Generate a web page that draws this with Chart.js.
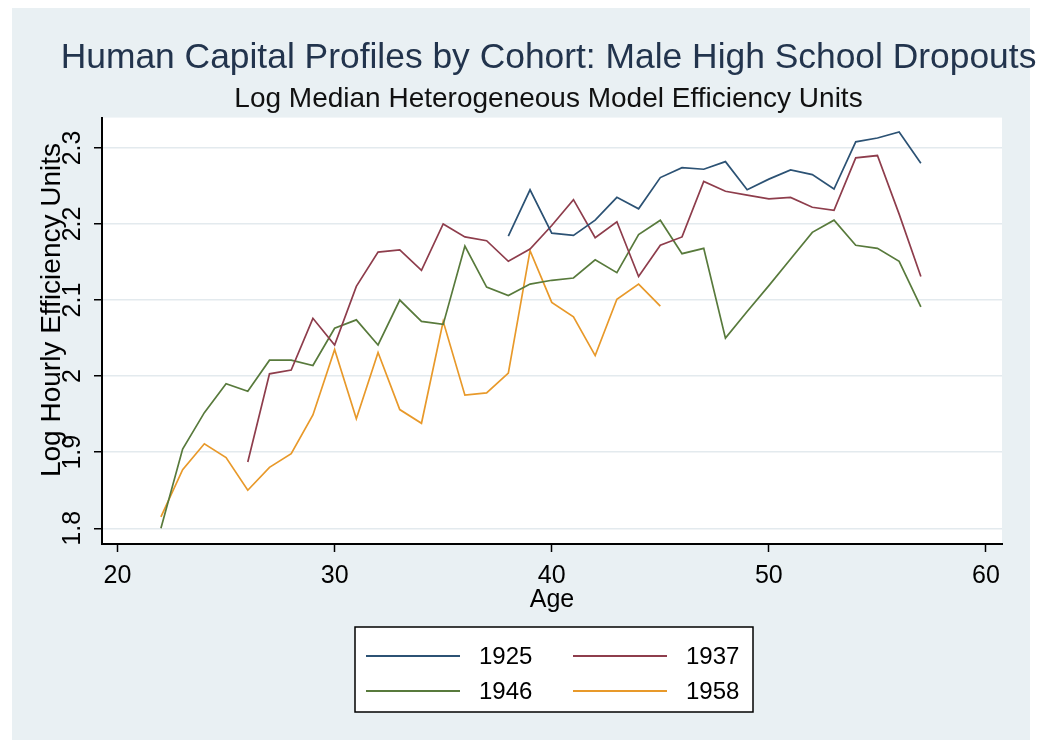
<!DOCTYPE html>
<html>
<head>
<meta charset="utf-8">
<script src="https://cdn.jsdelivr.net/npm/chart.js@4.4.1/dist/chart.umd.min.js"></script>
<style>
html,body{margin:0;padding:0;background:#ffffff;}
#wrap{width:1052px;height:740px;position:relative;}
canvas{display:block;}
</style>
</head>
<body>
<div id="wrap"><canvas id="c" width="1052" height="740"></canvas></div>
<script>
// ---- text ----
const titleText = "Human Capital Profiles by Cohort: Male High School Dropouts";
const subtitleText = "Log Median Heterogeneous Model Efficiency Units";
const xTitle = "Age";
const yTitle = "Log Hourly Efficiency Units";

// ---- ticks ----
const xTicks = [20, 30, 40, 50, 60];
const yTicks = [1.8, 1.9, 2.0, 2.1, 2.2, 2.3];
const yTickLabels = ["1.8", "1.9", "2", "2.1", "2.2", "2.3"];

// ---- series ----
const cohorts = ["1925", "1937", "1946", "1958"];

const ages1925 = [38, 39, 40, 41, 42, 43, 44, 45, 46, 47, 48, 49, 50, 51, 52, 53, 54, 55, 56, 57];
const vals1925 = [2.184, 2.245, 2.188, 2.185, 2.205, 2.235, 2.220, 2.261, 2.274, 2.272, 2.282, 2.245, 2.259, 2.271, 2.265, 2.246, 2.308, 2.313, 2.321, 2.280];

const ages1937 = [26, 27, 28, 29, 30, 31, 32, 33, 34, 35, 36, 37, 38, 39, 40, 41, 42, 43, 44, 45, 46, 47, 48, 49, 50, 51, 52, 53, 54, 55, 56, 57];
const vals1937 = [1.887, 2.003, 2.008, 2.076, 2.041, 2.118, 2.163, 2.166, 2.139, 2.200, 2.183, 2.178, 2.151, 2.167, 2.198, 2.232, 2.182, 2.203, 2.131, 2.172, 2.183, 2.256, 2.243, 2.238, 2.233, 2.235, 2.222, 2.218, 2.287, 2.290, 2.213, 2.131];

const ages1946 = [22, 23, 24, 25, 26, 27, 28, 29, 30, 31, 32, 33, 34, 35, 36, 37, 38, 39, 40, 41, 42, 43, 44, 45, 46, 47, 48, 49, 50, 51, 52, 53, 54, 55, 56, 57];
const vals1946 = [1.800, 1.904, 1.952, 1.990, 1.980, 2.021, 2.021, 2.014, 2.063, 2.074, 2.041, 2.100, 2.072, 2.068, 2.171, 2.117, 2.106, 2.121, 2.126, 2.129, 2.153, 2.136, 2.186, 2.205, 2.161, 2.168, 2.050, 2.085, 2.119, 2.154, 2.189, 2.205, 2.172, 2.168, 2.151, 2.091];

const ages1958 = [22, 23, 24, 25, 26, 27, 28, 29, 30, 31, 32, 33, 34, 35, 36, 37, 38, 39, 40, 41, 42, 43, 44, 45];
const vals1958 = [1.815, 1.877, 1.911, 1.893, 1.850, 1.880, 1.898, 1.949, 2.035, 1.944, 2.031, 1.956, 1.938, 2.072, 1.975, 1.978, 2.004, 2.165, 2.097, 2.078, 2.027, 2.101, 2.121, 2.092];

const seriesColors = ["#2c5274", "#8e3d4c", "#587a3c", "#e8992a"];

function pts(ages, vals) { return ages.map((a, i) => ({ x: a, y: vals[i] })); }

const FONT = '"Liberation Sans", Arial, Helvetica, sans-serif';
Chart.defaults.font.family = FONT;
Chart.defaults.color = '#000000';

const bgPlugin = {
  id: 'stataBg',
  beforeDraw(chart) {
    const { ctx, chartArea: a } = chart;
    ctx.save();
    ctx.fillStyle = '#ffffff';
    ctx.fillRect(0, 0, chart.width, chart.height);
    ctx.fillStyle = '#e9f0f3';
    ctx.fillRect(12, 8, 1018, 732);
    ctx.fillStyle = '#ffffff';
    ctx.fillRect(a.left, a.top, a.right - a.left, a.bottom - a.top);
    ctx.restore();
  }
};

// y-axis title, placed as Stata places it (beside the label column, slightly above plot centre)
const yTitlePlugin = {
  id: 'stataYTitle',
  afterDraw(chart, args, o) {
    const ctx = chart.ctx;
    ctx.save();
    ctx.translate(o.x, o.y);
    ctx.rotate(-Math.PI / 2);
    ctx.font = o.font;
    ctx.fillStyle = '#000000';
    ctx.textAlign = 'center';
    ctx.textBaseline = 'middle';
    ctx.fillText(o.text, 0, 0);
    ctx.restore();
  }
};

const legendPlugin = {
  id: 'stataLegend',
  afterDraw(chart, args, o) {
    const ctx = chart.ctx;
    ctx.save();
    ctx.fillStyle = '#ffffff';
    ctx.fillRect(o.x, o.y, o.w, o.h);
    ctx.strokeStyle = '#000000';
    ctx.lineWidth = 1.5;
    ctx.strokeRect(o.x, o.y, o.w, o.h);
    chart.data.datasets.forEach((ds, i) => {
      const col = i % 2, row = Math.floor(i / 2);
      const cx = o.x + o.colX[col];
      const cy = o.y + o.rowY[row];
      ctx.strokeStyle = ds.borderColor;
      ctx.lineWidth = 2;
      ctx.beginPath();
      ctx.moveTo(cx, cy);
      ctx.lineTo(cx + o.lineLen, cy);
      ctx.stroke();
      ctx.fillStyle = '#000000';
      ctx.font = o.font;
      ctx.textBaseline = 'middle';
      ctx.textAlign = 'left';
      ctx.fillText(ds.label, cx + o.lineLen + o.gap, cy + 1);
    });
    ctx.restore();
  }
};

const allAges = [ages1925, ages1937, ages1946, ages1958];
const allVals = [vals1925, vals1937, vals1946, vals1958];

new Chart(document.getElementById('c'), {
  type: 'line',
  data: {
    datasets: cohorts.map((c, i) => ({
      label: c,
      data: pts(allAges[i], allVals[i]),
      borderColor: seriesColors[i],
      backgroundColor: seriesColors[i],
      borderWidth: 1.7,
      pointRadius: 0,
      pointHoverRadius: 0,
      tension: 0,
      fill: false,
      yAxisID: 'y',
      xAxisID: 'x'
    }))
  },
  options: {
    responsive: false,
    devicePixelRatio: 1,
    animation: false,
    events: [],
    layout: { autoPadding: false, padding: { left: 45, right: 0, top: 0, bottom: 0 } },
    plugins: {
      legend: { display: false },
      tooltip: { enabled: false },
      title: {
        display: true,
        text: titleText,
        color: '#22344d',
        font: { size: 35.4, weight: 'normal', lineHeight: 1.2 },
        padding: { top: 37, bottom: 0 }
      },
      subtitle: {
        display: true,
        text: subtitleText,
        color: '#111111',
        font: { size: 28, weight: 'normal', lineHeight: 1.2 },
        padding: { top: 3.5, bottom: 1 }
      },
      stataYTitle: {
        text: yTitle, x: 52, y: 310,
        font: '28px ' + FONT
      },
      stataLegend: {
        x: 355, y: 627, w: 398, h: 85,
        colX: [11, 218], rowY: [29, 64],
        lineLen: 94, gap: 19,
        font: '24px ' + FONT
      }
    },
    scales: {
      x: {
        type: 'linear',
        position: 'bottom',
        min: 19.286,
        max: 60.737,
        afterBuildTicks: s => { s.ticks = xTicks.map(v => ({ value: v })); },
        afterFit: s => { s.height = 196; },
        ticks: {
          color: '#000000',
          font: { size: 25 },
          padding: 9,
          maxRotation: 0,
          autoSkip: false,
          callback: v => String(v)
        },
        grid: { drawOnChartArea: false, drawTicks: true, tickLength: 8, tickColor: '#000000', tickWidth: 1.5 },
        border: { display: true, color: '#000000', width: 2 },
        title: {
          display: true,
          text: xTitle,
          color: '#000000',
          font: { size: 25, lineHeight: 1.2 },
          padding: { top: 0, bottom: 125 }
        }
      },
      y: {
        type: 'linear',
        position: 'left',
        min: 1.7793,
        max: 2.3399,
        afterBuildTicks: s => { s.ticks = yTicks.map(v => ({ value: v })); },
        afterFit: s => { s.width = 57; },
        ticks: {
          color: '#000000',
          font: { size: 25 },
          padding: 4,
          minRotation: 90,
          maxRotation: 90,
          crossAlign: 'center',
          autoSkip: false,
          callback: (v, i) => yTickLabels[i]
        },
        grid: { color: '#e3eaee', lineWidth: 1.5, drawTicks: true, tickLength: 8, tickColor: '#000000', tickWidth: 1.5 },
        border: { display: true, color: '#000000', width: 2 },
        title: { display: false, text: yTitle }
      },
      yR: {
        type: 'linear',
        position: 'right',
        display: true,
        afterFit: s => { s.width = 50; },
        ticks: { display: false },
        grid: { display: false, drawTicks: false },
        border: { display: false },
        title: { display: false }
      }
    }
  },
  plugins: [bgPlugin, yTitlePlugin, legendPlugin]
});
</script>
</body>
</html>
